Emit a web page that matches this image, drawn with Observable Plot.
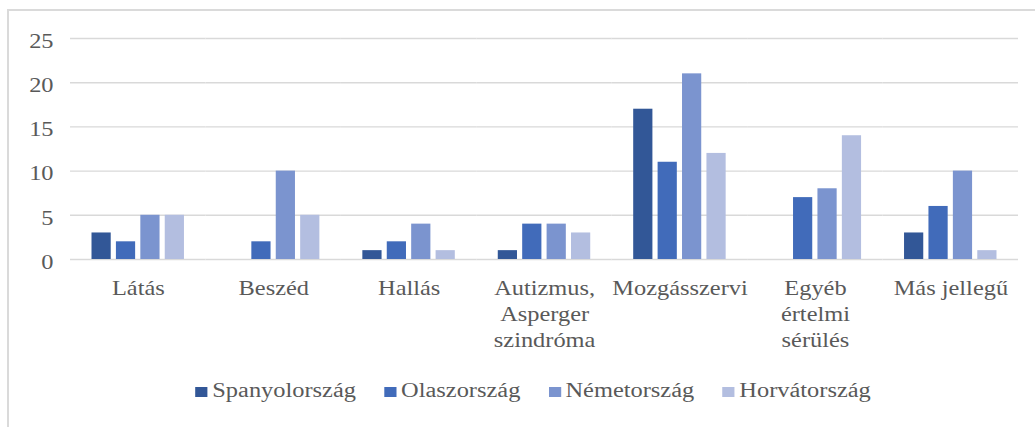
<!DOCTYPE html>
<html>
<head>
<meta charset="utf-8">
<script src="https://cdn.jsdelivr.net/npm/d3@7"></script>
<script src="https://cdn.jsdelivr.net/npm/@observablehq/plot@0.6"></script>
<style>
  html, body { margin: 0; padding: 0; background: #fff; overflow: hidden; }
  #frame { position: absolute; left: 7px; top: 9px; width: 1200px; height: 600px;
           border-left: 2px solid #dadada; border-top: 2px solid #dadada; }
  #chart { position: absolute; left: 0; top: 0; }
  #legend { position: absolute; left: 0; top: 380px; transform: scaleX(1.22); transform-origin: 0 0;
            display: flex; gap: 23px; padding-left: 160px; white-space: nowrap;
            font-family: "Liberation Serif", serif; font-size: 20px; line-height: 20px; color: #595959; }
  .sw { display: inline-block; width: 10px; height: 10px; margin-right: 4px; vertical-align: baseline; }
</style>
</head>
<body>
<div id="frame"></div>
<div id="chart"></div>
<div id="legend"></div>
<script>
const categories = ["Látás", "Beszéd", "Hallás", "Autizmus", "Mozgásszervi", "Egyéb", "Más jellegű"];
const categoryLabels = ["Látás", "Beszéd", "Hallás", "Autizmus,\nAsperger\nszindróma", "Mozgásszervi", "Egyéb\nértelmi\nsérülés", "Más jellegű"];
const countries = ["Spanyolország", "Olaszország", "Németország", "Horvátország"];
const colors = ["#325797", "#416bba", "#7b94cf", "#b3bee0"];
const spanyol = [3, 0, 1, 1, 17, 0, 3];
const olasz = [2, 2, 2, 4, 11, 7, 6];
const nemet = [5, 10, 4, 4, 21, 8, 10];
const horvat = [5, 5, 1, 3, 12, 14, 1];
const yTicks = [0, 5, 10, 15, 20, 25];

const seriesValues = [spanyol, olasz, nemet, horvat];
const data = [];
categories.forEach((c, i) => {
  countries.forEach((k, j) => data.push({category: c, country: k, value: seriesValues[j][i]}));
});

const S = 1.22;            // horizontal stretch of the reference rendering
const W = 1035 / S;

const chart = Plot.plot({
  width: W,
  height: 370,
  marginLeft: 70 / S,
  marginRight: W - 1018 / S,
  marginTop: 38,
  marginBottom: 111,
  style: {fontFamily: "Liberation Serif, serif", fontSize: "20px", color: "#595959", background: "transparent"},
  fx: {domain: categories, padding: 0, round: false},
  x: {domain: countries, paddingInner: 0.213, paddingOuter: 0.88, round: false, axis: null},
  y: {domain: [0, 25]},
  color: {domain: countries, range: colors},
  marks: [
    Plot.gridY(yTicks, {stroke: "#d9d9d9", strokeOpacity: 1, strokeWidth: 1.4}),
    Plot.barY(data, {fx: "category", x: "country", y: "value", fill: "country"}),
    Plot.axisY(yTicks, {tickSize: 0, tickPadding: 14, dy: 3, fontSize: 20, label: null, fill: "#595959"}),
    Plot.axisFx({anchor: "bottom", tickSize: 0, tickPadding: 17, fontSize: 20, lineHeight: 1.3,
      label: null, fill: "#595959",
      tickFormat: d => categoryLabels[categories.indexOf(d)]})
  ]
});
chart.style.transform = `scaleX(${S})`;
chart.style.transformOrigin = "0 0";
chart.style.overflow = "visible";
document.getElementById("chart").appendChild(chart);

const legend = document.getElementById("legend");
countries.forEach((k, j) => {
  const item = document.createElement("div");
  const sw = document.createElement("span");
  sw.className = "sw";
  sw.style.background = colors[j];
  item.appendChild(sw);
  item.appendChild(document.createTextNode(k));
  legend.appendChild(item);
});
</script>
</body>
</html>
